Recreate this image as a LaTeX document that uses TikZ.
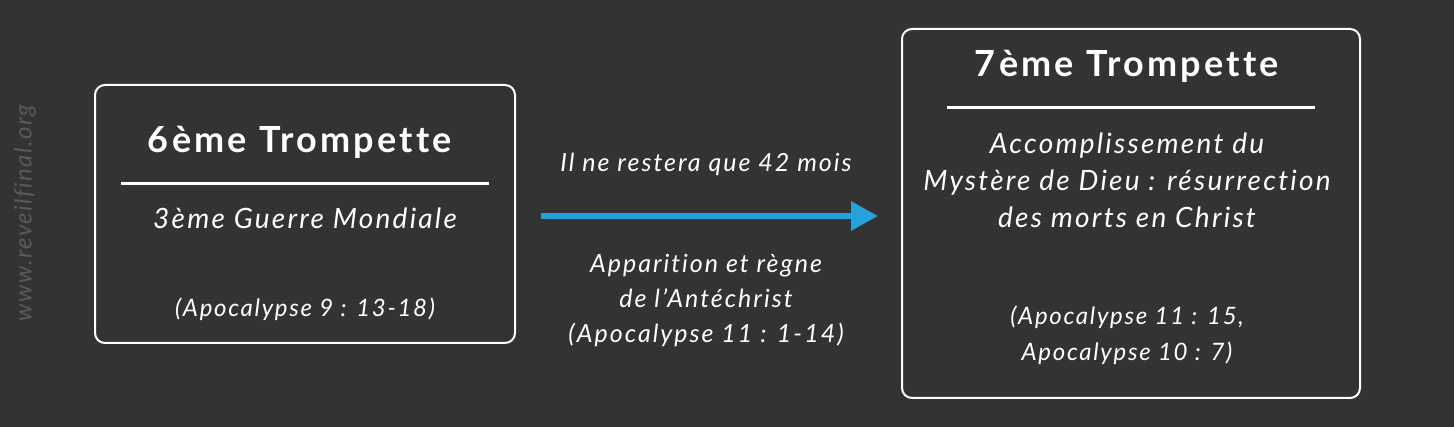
\documentclass[tikz,border=0pt]{standalone}
\usepackage{fontspec}
\setmainfont{Lato}[Ligatures=NoCommon]
\usetikzlibrary{arrows.meta}
\definecolor{bg}{HTML}{333333}
\definecolor{wm}{HTML}{5A5A5A}
\definecolor{arr}{HTML}{22A3DC}
\begin{document}
\begin{tikzpicture}[x=1pt,y=-1pt,
  frame/.style={draw=white,line width=2pt,rounded corners=10pt,inner sep=0pt},
  ttl/.style={text=white,anchor=base,font=\fontsize{36}{40}\selectfont\bfseries\addfontfeatures{LetterSpace=9}},
  txt/.style={text=white,anchor=base,font=\fontsize{28}{30}\selectfont\itshape\addfontfeatures{LetterSpace=8}},
  cit/.style={text=white,anchor=base,font=\fontsize{24}{26}\selectfont\itshape\addfontfeatures{LetterSpace=7}},
  lab/.style={text=white,anchor=base,font=\fontsize{25}{26}\selectfont\itshape\addfontfeatures{LetterSpace=8}},
  rul/.style={draw=white,line width=3pt}]
\fill[bg] (0,0) rectangle (1454,427);
\useasboundingbox (0,0) rectangle (1454,427);
\node[text=wm,rotate=90,font=\fontsize{24}{26}\selectfont\itshape\addfontfeatures{LetterSpace=6}] (wmk) at (25,213) {www.reveilfinal.org};
% box 1
\node[frame,minimum width=420pt,minimum height=258pt] (b1) at (305,214) {};
\node[ttl] (t1) at (300,153) {6ème Trompette};
\coordinate (r1a) at (121,184); \coordinate (r1b) at (489,184);
\draw[rul] (r1a) -- (r1b);
\node[txt] (s1) at (305,229) {3ème Guerre Mondiale};
\node[cit] (c1) at (305,317) {(Apocalypse 9 : 13-18)};
% box 2
\node[frame,minimum width=458pt,minimum height=369pt] (b2) at (1131,213.5) {};
\node[ttl] (t2) at (1127,77) {7ème Trompette};
\coordinate (r2a) at (947,108); \coordinate (r2b) at (1315,108);
\draw[rul] (r2a) -- (r2b);
\node[txt] (s2a) at (1127,154) {Accomplissement du};
\node[txt] (s2b) at (1127,191) {Mystère de Dieu : résurrection};
\node[txt] (s2c) at (1127,228) {des morts en Christ};
\node[cit] (c2a) at (1127,325) {(Apocalypse 11 : 15,};
\node[cit] (c2b) at (1127,361) {Apocalypse 10 : 7)};
% arrow
\draw[arr,line width=6pt,-{Triangle[length=27pt,width=28pt]},shorten <=25pt,shorten >=23pt] ([yshift=-2pt]b1.east) -- ([yshift=-2.5pt]b2.west);
\node[lab] (a1) at (706,172) {Il ne restera que 42 mois};
\node[lab] (a2) at (706,273) {Apparition et règne};
\node[lab] (a3) at (706,308) {de l’Antéchrist};
\node[lab] (a4) at (706,343) {(Apocalypse 11 : 1-14)};
\end{tikzpicture}
\end{document}
